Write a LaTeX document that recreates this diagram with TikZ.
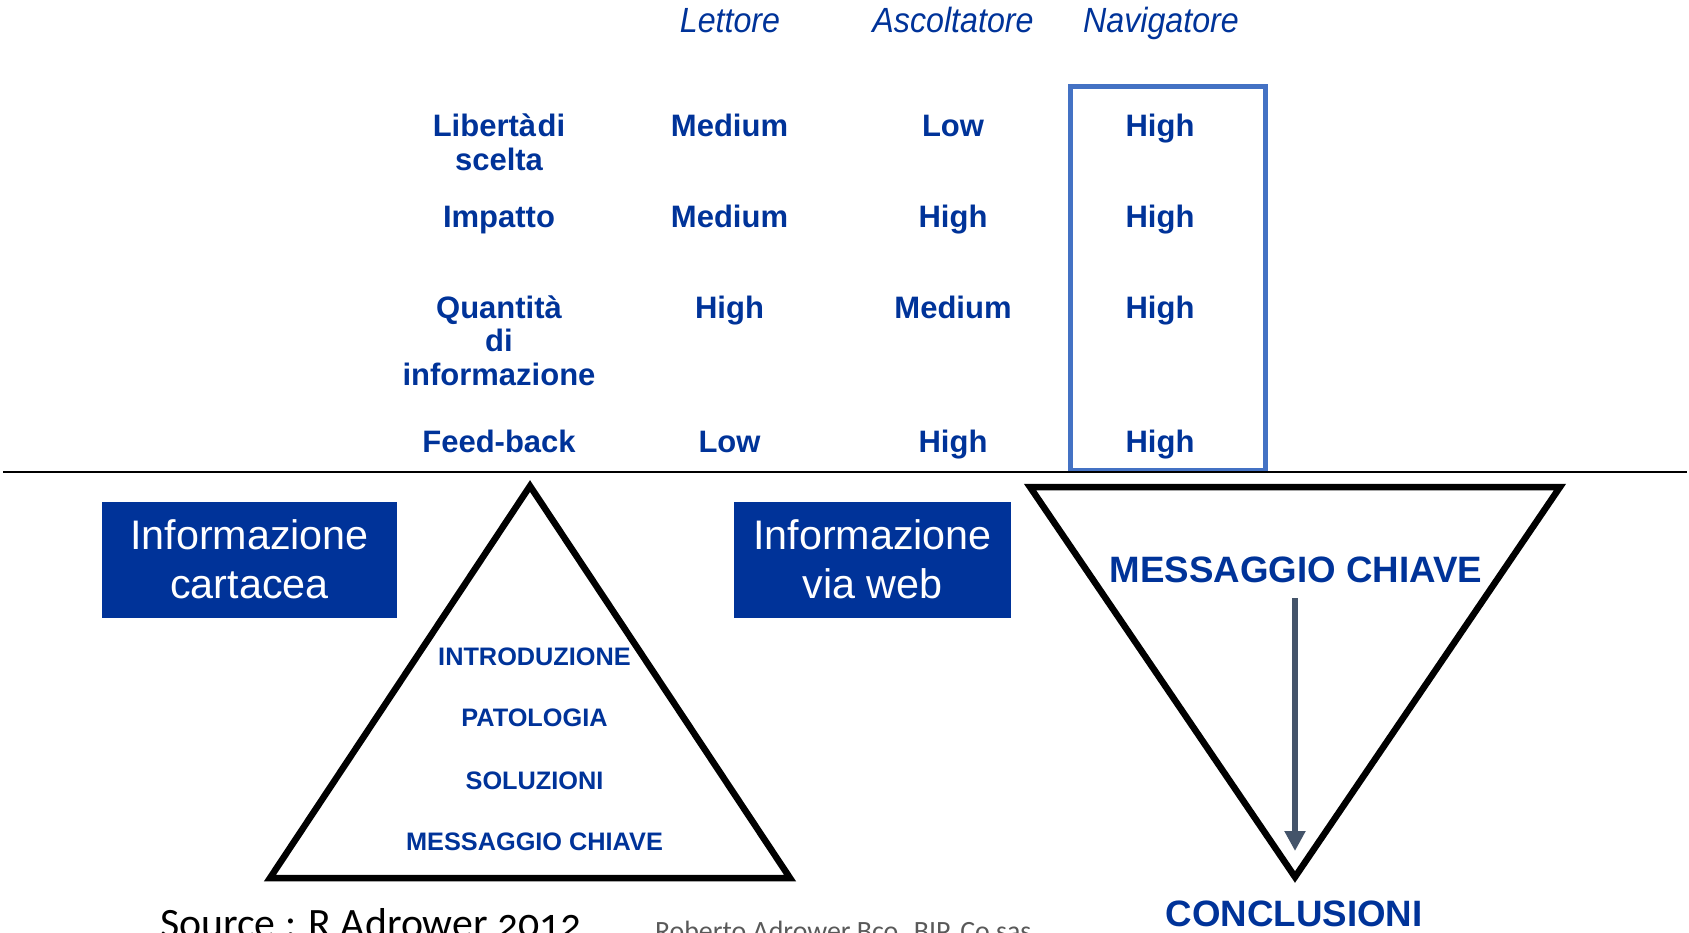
\documentclass[tikz,border=0pt]{standalone}
\usepackage{fontspec}
\setmainfont{Liberation Sans}
\newfontfamily\hdrfont[FakeStretch=0.92]{Liberation Sans}
\newfontfamily\srcfont[Numbers=OldStyle]{Carlito}
\usetikzlibrary{arrows.meta}
\definecolor{navy}{RGB}{0,51,153}
\definecolor{boxblue}{RGB}{68,114,196}
\definecolor{arrowgray}{RGB}{68,84,106}
\definecolor{footgray}{RGB}{89,89,89}
\begin{document}
\begin{tikzpicture}[x=1pt,y=-1pt,
  every node/.style={inner sep=0pt, outer sep=0pt},
  hdr/.style={font=\hdrfont\itshape\fontsize{35}{40}\selectfont, text=navy, anchor=base},
  cell/.style={font=\bfseries\fontsize{31}{33.5}\selectfont, text=navy, anchor=base, align=center},
  bluebox/.style={fill=navy, text=white, font=\fontsize{41.3}{49}\selectfont, align=center, minimum height=116pt},
  tri/.style={draw=black, line width=6.5pt, line join=miter},
  trilabel/.style={font=\bfseries\fontsize{25.3}{30}\selectfont, text=navy, anchor=base},
  biglabel/.style={font=\bfseries\fontsize{36.7}{40}\selectfont, text=navy, anchor=base},
  frame/.style={draw=boxblue, line width=4.5pt},
  foot/.style={font=\srcfont, anchor=base west},
]
\useasboundingbox (0,0) rectangle (1689,932);

% column headers
\node[hdr] (hL) at (730,32.3) {Lettore};
\node[hdr] (hA) at (953,32.3) {Ascoltatore};
\node[hdr] (hN) at (1161,32.3) {Navigatore};

% highlight frame around Navigatore column
\node[frame, minimum width=195pt, minimum height=383.5pt] (nframe) at (1168,278.25) {};

% row labels (anchor = baseline of the last line)
\node[cell] (r1) at (499,170) {Libertà\kern1.5pt di\\scelta};
\node[cell] (r2) at (499,227.3) {Impatto};
\node[cell] (r3) at (499,385) {Quantità\\di\\informazione};
\node[cell] (r4) at (499,452.7) {Feed-back};

% values
\node[cell] (c11) at (729.5,136.7) {Medium};
\node[cell] (c12) at (953,136.7) {Low};
\node[cell] (c13) at (1160,136.7) {High};
\node[cell] (c21) at (729.5,227.3) {Medium};
\node[cell] (c22) at (953,227.3) {High};
\node[cell] (c23) at (1160,227.3) {High};
\node[cell] (c31) at (729.5,318.3) {High};
\node[cell] (c32) at (953,318.3) {Medium};
\node[cell] (c33) at (1160,318.3) {High};
\node[cell] (c41) at (729.5,452.7) {Low};
\node[cell] (c42) at (953,452.7) {High};
\node[cell] (c43) at (1160,452.7) {High};

% separator line
\coordinate (sepL) at (3,472);
\coordinate (sepR) at (1687,472);
\draw[line width=2pt] (sepL) -- (sepR);

% blue boxes
\node[bluebox, minimum width=295pt] (cart) at (249.5,559.5) {Informazione\\cartacea};
\node[bluebox, minimum width=277pt] (web) at (872.5,559.5) {Informazione\\via web};

% pyramid
\coordinate (pA) at (530,486);
\coordinate (pR) at (790,878);
\coordinate (pL) at (270,878);
\draw[tri] (pA) -- (pR) -- (pL) -- cycle;
\node[trilabel] (t1) at (534.5,665) {INTRODUZIONE};
\node[trilabel] (t2) at (534.5,726.7) {PATOLOGIA};
\node[trilabel] (t3) at (534.5,789) {SOLUZIONI};
\node[trilabel] (t4) at (534.5,850.7) {MESSAGGIO CHIAVE};

% inverted pyramid
\coordinate (iL) at (1030,487);
\coordinate (iR) at (1560,487);
\coordinate (iB) at (1295,877);
\draw[tri] (iL) -- (iR) -- (iB) -- cycle;
\node[biglabel] (msg) at (1296,582) {MESSAGGIO CHIAVE};
\node[biglabel] (concl) at (1294,926) {CONCLUSIONI};
\coordinate (a1) at (1295,598);
\coordinate (a2) at (1295,851);
\draw[arrowgray, line width=5.5pt, -{Triangle[length=20pt,width=20pt]}] (a1) -- (a2);

% footer (cut by the lower edge, as in the reference)
\node[foot, font=\srcfont\fontsize{41.8}{48}\selectfont] (src) at (160,937) {Source : R Adrower 2012};
\node[foot, font=\srcfont\fontsize{27.9}{32}\selectfont, text=footgray] (cred) at (655,940) {Roberto Adrower Bco. BIP. Co sas};
\end{tikzpicture}
\end{document}
